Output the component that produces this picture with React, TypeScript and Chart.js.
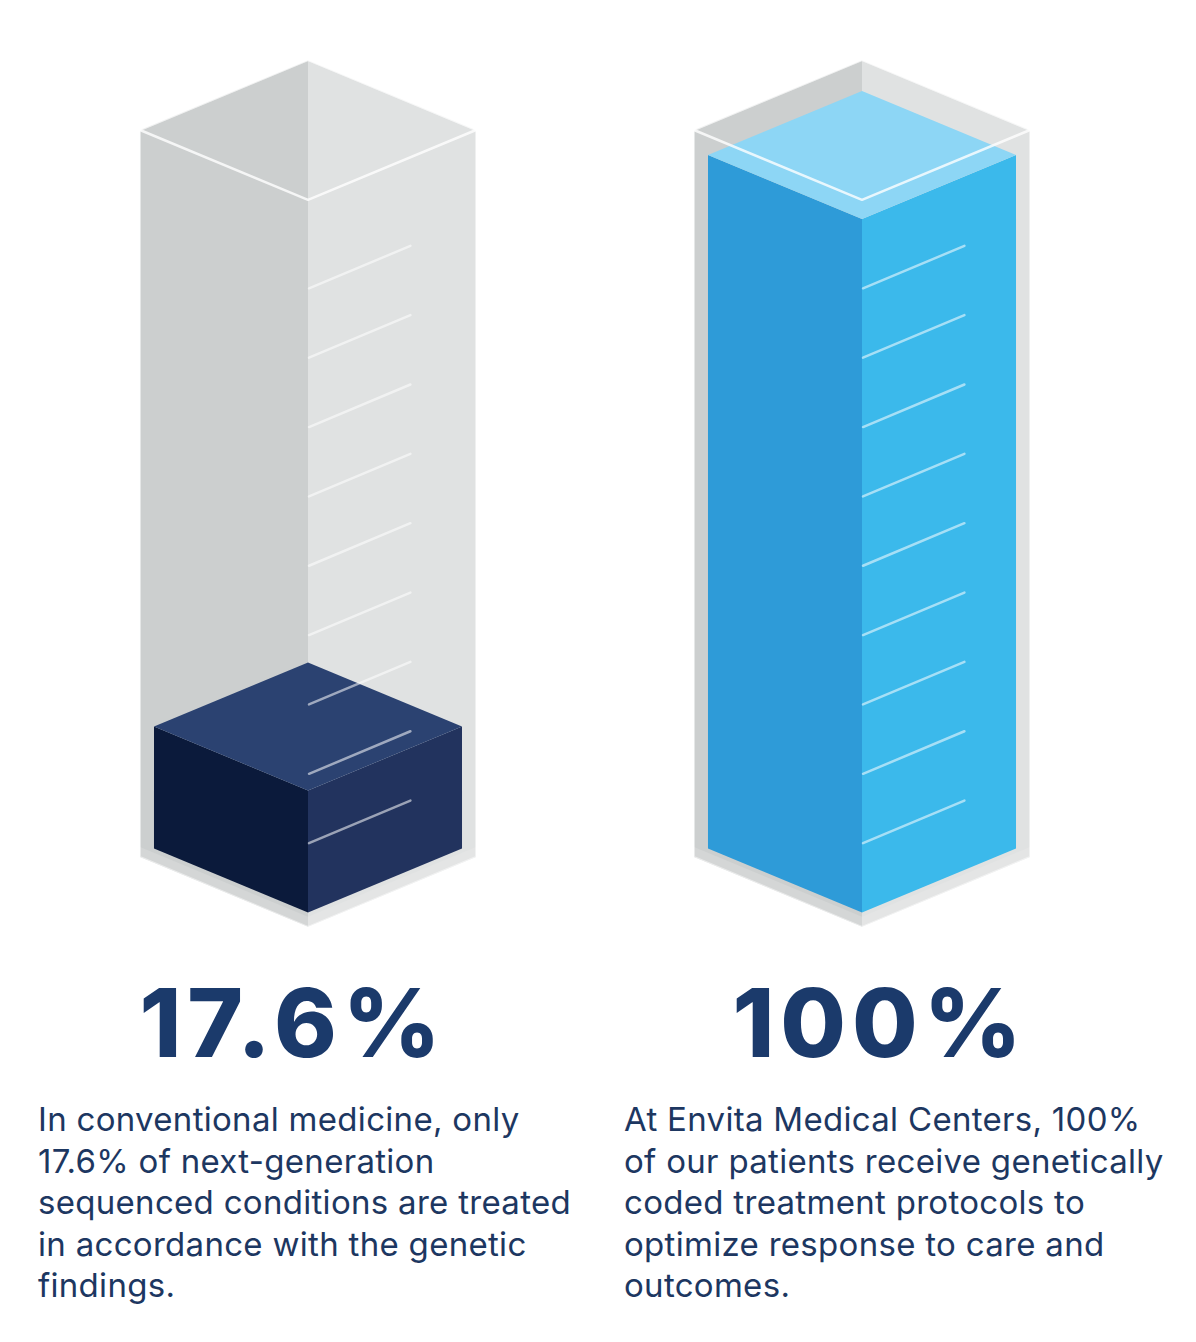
import React, { useEffect, useRef } from "react";
import { Chart, registerables } from "chart.js";

Chart.register(...registerables);

// ---- data ----
const CATEGORIES = ["Conventional medicine", "Envita Medical Centers"];
const VALUES = [17.6, 100];
const SCALE_MAX = 100;
const GRADUATIONS = [10, 20, 30, 40, 50, 60, 70, 80, 90];
const BIG_LABELS = ["17.6%", "100%"];
const CAPTION_LEFT = [
  "In conventional medicine, only",
  "17.6% of next-generation",
  "sequenced conditions are treated",
  "in accordance with the genetic",
  "findings.",
];
const CAPTION_RIGHT = [
  "At Envita Medical Centers, 100%",
  "of our patients receive genetically",
  "coded treatment protocols to",
  "optimize response to care and",
  "outcomes.",
];

// ---- styles ----
const FACES = [
  { left: "#0B1A3B", right: "#22335E", top: "#2B4271" },
  { left: "#2E9BD8", right: "#3BB9EB", top: "#8DD6F5" },
];
const SLOPE = 0.4156;
const NAVY = "#1B3A6B";
const TEXT = "#1D3761";

function poly(ctx: CanvasRenderingContext2D, pts: number[][], fill: string) {
  ctx.beginPath();
  ctx.moveTo(pts[0][0], pts[0][1]);
  for (let i = 1; i < pts.length; i++) ctx.lineTo(pts[i][0], pts[i][1]);
  ctx.closePath();
  ctx.fillStyle = fill;
  ctx.fill();
}

function line(ctx: CanvasRenderingContext2D, pts: number[][], stroke: string, w: number) {
  ctx.beginPath();
  ctx.moveTo(pts[0][0], pts[0][1]);
  for (let i = 1; i < pts.length; i++) ctx.lineTo(pts[i][0], pts[i][1]);
  ctx.strokeStyle = stroke;
  ctx.lineWidth = w;
  ctx.lineCap = "round";
  ctx.lineJoin = "round";
  ctx.stroke();
}

const cubePlugin = {
  id: "cube3d",
  afterDatasetsDraw(chart: any) {
    const ctx: CanvasRenderingContext2D = chart.ctx;
    const yScale = chart.scales.y;
    const meta = chart.getDatasetMeta(0);
    meta.data.forEach((bar: any, i: number) => {
      const { x, y, base, width } = bar.getProps(["x", "y", "base", "width"], true);
      const hw = width / 2;
      const d = hw * SLOPE;
      // glass container
      const ghw = hw + 14;
      const gd = ghw * SLOPE;
      const gTop = yScale.getPixelForValue(SCALE_MAX) - 25;
      const gBot = base + 8.5;
      ctx.save();
      poly(ctx, [[x - ghw, gTop], [x, gTop - gd], [x, gBot + gd], [x - ghw, gBot]], "#CCCFCF");
      poly(ctx, [[x, gTop - gd], [x + ghw, gTop], [x + ghw, gBot], [x, gBot + gd]], "#E0E2E2");
      // lighter floor band
      poly(ctx, [[x - ghw, gBot - 10], [x, gBot + gd - 10], [x, gBot + gd], [x - ghw, gBot]], "#D4D6D6");
      poly(ctx, [[x, gBot + gd - 10], [x + ghw, gBot - 10], [x + ghw, gBot], [x, gBot + gd]], "#E4E5E5");
      // back rim
      line(ctx, [[x - ghw, gTop], [x, gTop - gd], [x + ghw, gTop]], "rgba(255,255,255,0.45)", 2);
      // bar
      const f = FACES[i % FACES.length];
      poly(ctx, [[x - hw, y], [x, y + d], [x, base + d], [x - hw, base]], f.left);
      poly(ctx, [[x, y + d], [x + hw, y], [x + hw, base], [x, base + d]], f.right);
      poly(ctx, [[x - hw, y], [x, y - d], [x + hw, y], [x, y + d]], f.top);
      // graduations
      GRADUATIONS.forEach((v) => {
        const py = yScale.getPixelForValue(v) + d;
        const len = hw * 0.665;
        line(ctx, [[x + 1, py], [x + len, py - len * SLOPE]], "rgba(255,255,255,0.55)", 2.5);
      });
      // front rim
      line(ctx, [[x - ghw, gTop], [x, gTop + gd], [x + ghw, gTop]], "rgba(255,255,255,0.8)", 2.5);
      // outline glow
      ctx.beginPath();
      ctx.moveTo(x - ghw, gTop);
      ctx.lineTo(x, gTop - gd);
      ctx.lineTo(x + ghw, gTop);
      ctx.lineTo(x + ghw, gBot);
      ctx.lineTo(x, gBot + gd);
      ctx.lineTo(x - ghw, gBot);
      ctx.closePath();
      ctx.strokeStyle = "rgba(255,255,255,0.5)";
      ctx.lineWidth = 2;
      ctx.stroke();
      ctx.restore();
    });
  },
};

export default function App() {
  const ref = useRef<HTMLCanvasElement | null>(null);
  useEffect(() => {
    if (!ref.current) return;
    const chart = new Chart(ref.current, {
      type: "bar",
      data: {
        labels: CATEGORIES,
        datasets: [
          {
            label: "Share treated per genetic findings",
            data: VALUES,
            backgroundColor: "rgba(0,0,0,0)",
            borderWidth: 0,
            categoryPercentage: 1,
            barPercentage: 0.556,
          },
        ],
      },
      options: {
        animation: false,
        responsive: false,
        devicePixelRatio: 1,
        layout: { padding: { top: 155, bottom: 111.5, left: 31, right: 57 } },
        plugins: { legend: { display: false }, tooltip: { enabled: false } },
        scales: {
          x: { display: false },
          y: { display: false, min: 0, max: SCALE_MAX },
        },
      },
      plugins: [cubePlugin],
    });
    return () => chart.destroy();
  }, []);

  const bigStyle: React.CSSProperties = {
    position: "absolute",
    top: 975,
    width: 400,
    textAlign: "center",
    fontFamily: "Inter, sans-serif",
    fontWeight: 800,
    fontSize: 95,
    lineHeight: "95px",
    letterSpacing: "6px",
    paddingLeft: 6,
    boxSizing: "border-box",
    color: NAVY,
    whiteSpace: "nowrap",
  };
  const capStyle: React.CSSProperties = {
    position: "absolute",
    top: 1099,
    fontFamily: "Inter, sans-serif",
    fontWeight: 400,
    fontSize: 33,
    lineHeight: "41.5px",
    letterSpacing: "0.3px",
    color: TEXT,
    whiteSpace: "nowrap",
  };

  return (
    <div style={{ position: "absolute", left: 0, top: 0, width: 1196, height: 1342, background: "#fff", overflow: "hidden" }}>
      <canvas ref={ref} width={1196} height={960} style={{ position: "absolute", left: 0, top: 0, width: 1196, height: 960 }} />
      <div style={{ ...bigStyle, left: 290 - 200 }}>{BIG_LABELS[0]}</div>
      <div style={{ ...bigStyle, left: 877 - 200 }}>{BIG_LABELS[1]}</div>
      <div style={{ ...capStyle, left: 38 }}>
        {CAPTION_LEFT.map((l, i) => (
          <div key={i}>{l}</div>
        ))}
      </div>
      <div style={{ ...capStyle, left: 624 }}>
        {CAPTION_RIGHT.map((l, i) => (
          <div key={i}>{l}</div>
        ))}
      </div>
    </div>
  );
}
